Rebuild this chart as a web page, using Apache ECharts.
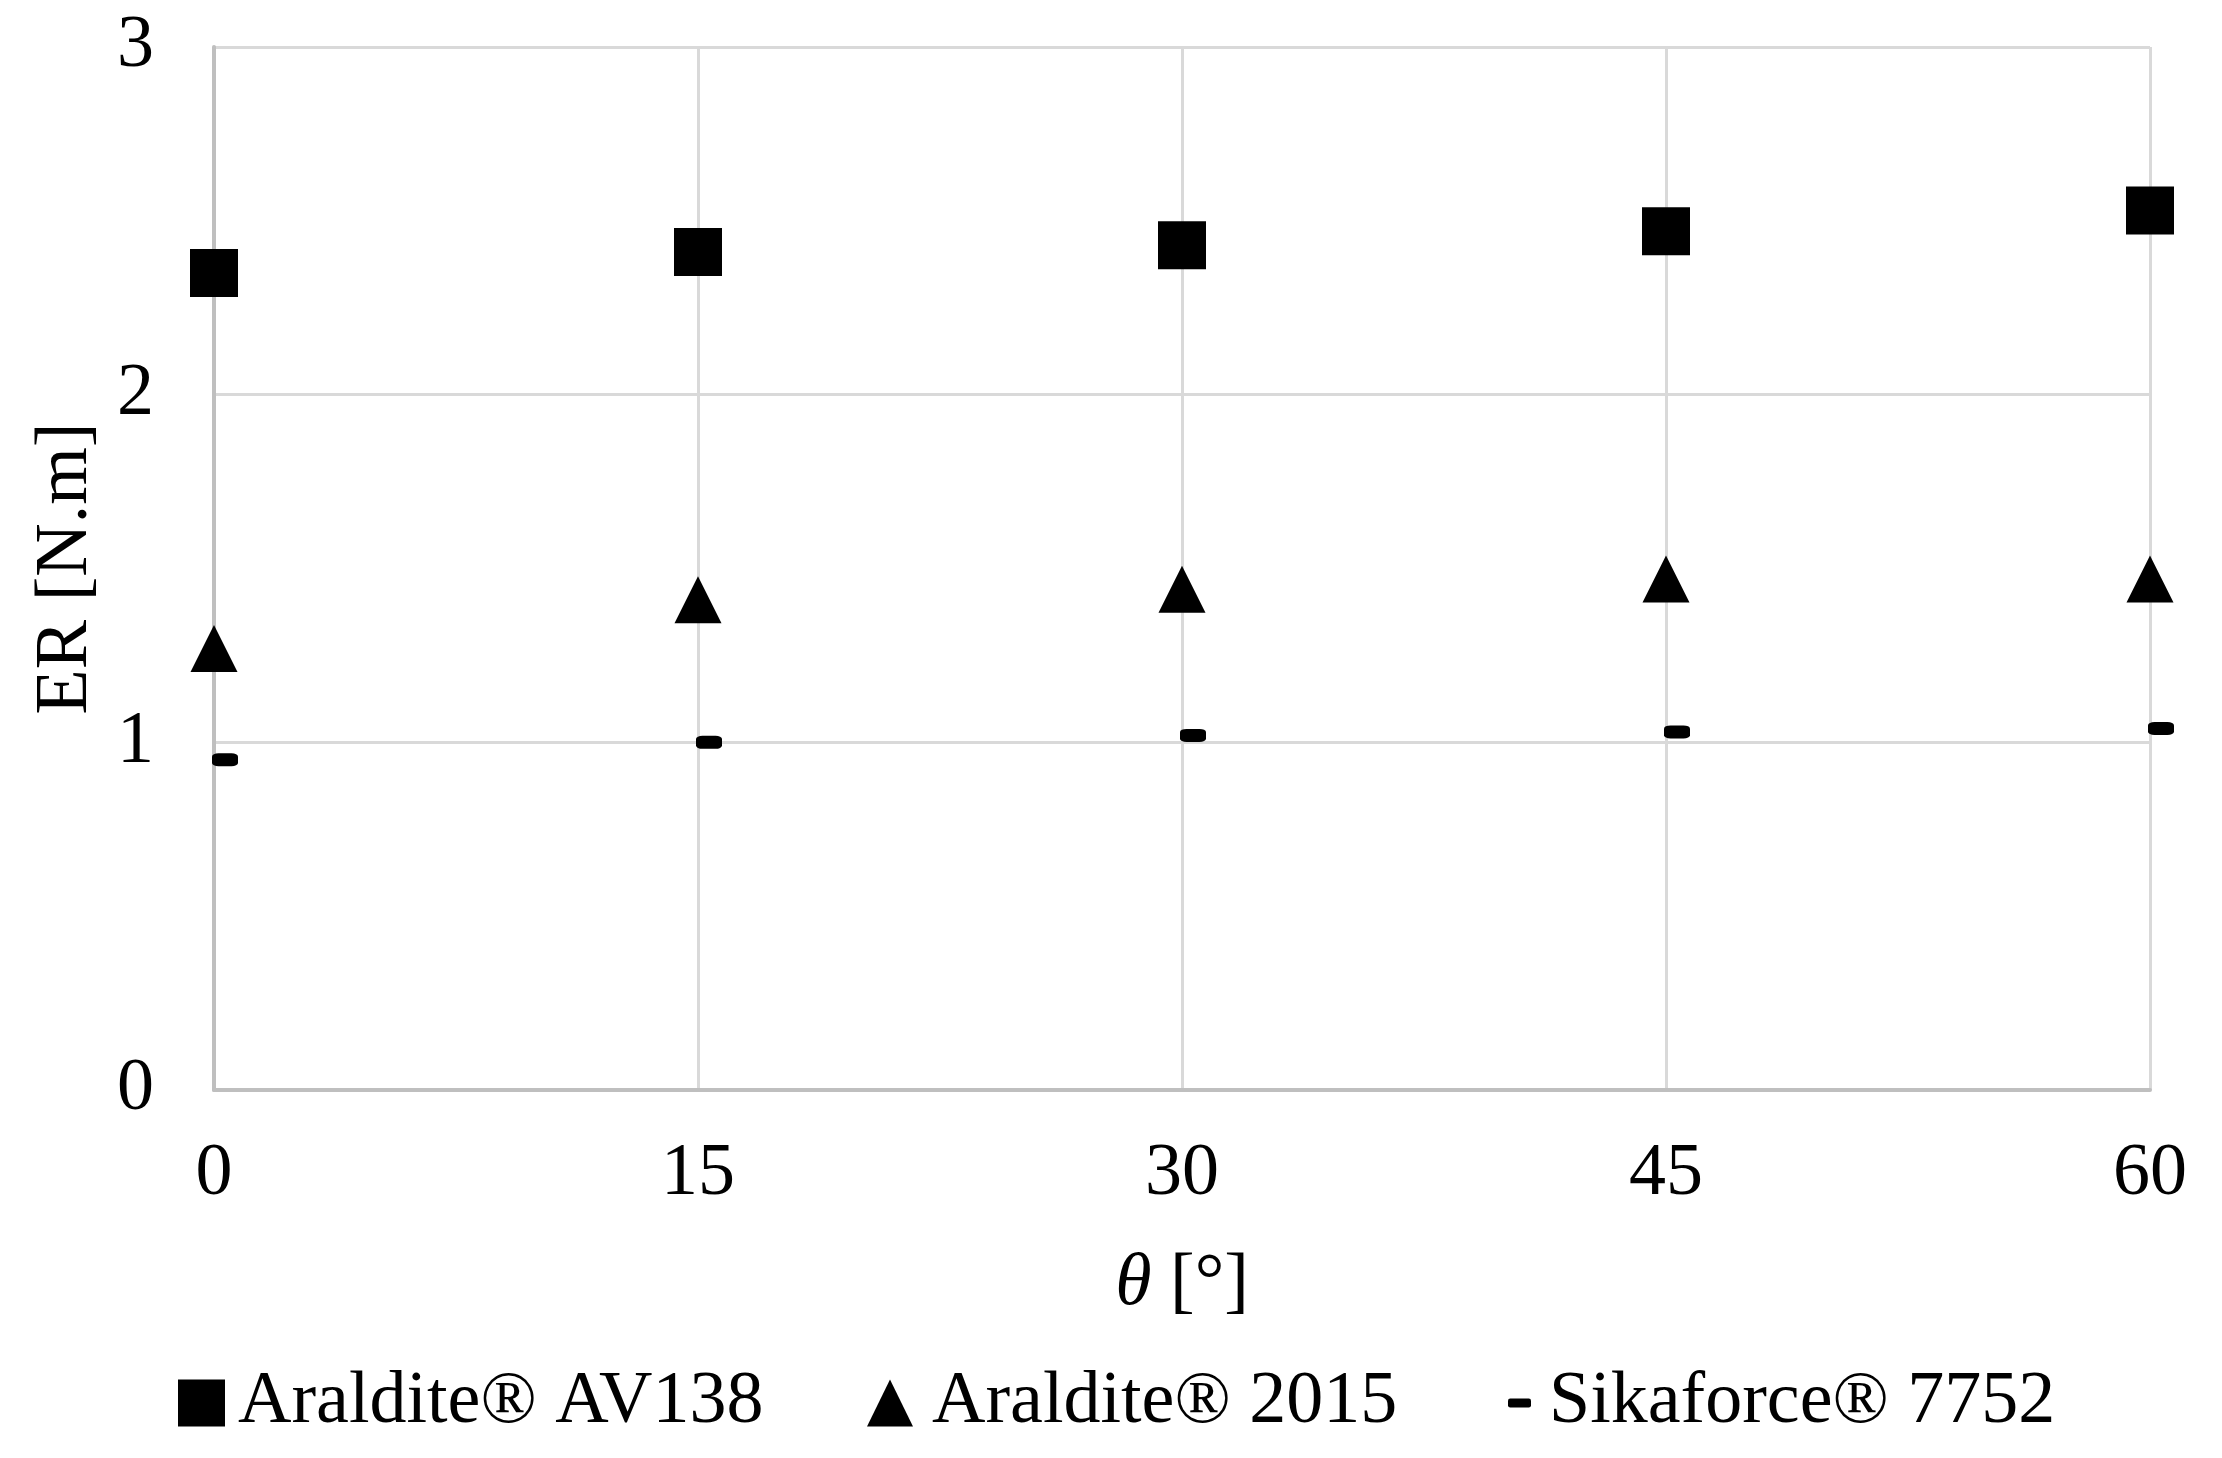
<!DOCTYPE html>
<html>
<head>
<meta charset="utf-8">
<script src="https://cdn.jsdelivr.net/npm/echarts@6/dist/echarts.min.js"></script>
<style>
html,body{margin:0;padding:0;background:#fff;}
#chart{width:2222px;height:1458px;}
</style>
</head>
<body>
<div id="chart"></div>
<script>
var theta = [0, 15, 30, 45, 60];
var xTicks = [0, 15, 30, 45, 60];
var yTicks = [0, 1, 2, 3];
var seriesNames = ['Araldite® AV138', 'Araldite® 2015', 'Sikaforce® 7752'];
var av138 = [2.35, 2.41, 2.43, 2.47, 2.53];
var a2015 = [1.27, 1.41, 1.44, 1.47, 1.47];
var sika = [0.95, 1.00, 1.02, 1.03, 1.04];

function pairs(xs, ys) { return xs.map(function (x, i) { return [x, ys[i]]; }); }

var FONT = "'Liberation Serif', 'Times New Roman', serif";
var FS = 74;
var chart = echarts.init(document.getElementById('chart'), null, {renderer: 'canvas'});

function legendText(padLeft) {
  return {fontFamily: FONT, fontSize: FS, color: '#000', lineHeight: 74, padding: [0, 0, 0, padLeft]};
}

chart.setOption({
  backgroundColor: '#fff',
  animation: false,
  grid: {left: 214, right: 72, top: 47, bottom: 368, containLabel: false, outerBoundsMode: 'none'},
  xAxis: {
    type: 'value', min: xTicks[0], max: xTicks[xTicks.length - 1], interval: 15,
    name: '{i|θ} [°]', nameLocation: 'middle', nameGap: 158,
    nameTextStyle: {fontFamily: FONT, fontSize: FS, color: '#000',
      rich: {i: {fontFamily: FONT, fontSize: FS, fontStyle: 'italic', color: '#000'}}},
    axisLine: {show: true, onZero: false, lineStyle: {color: '#bfbfbf', width: 4}},
    axisTick: {show: false},
    axisLabel: {fontFamily: FONT, fontSize: FS, color: '#000', margin: 48},
    splitLine: {show: true, lineStyle: {color: '#d9d9d9', width: 3}}
  },
  yAxis: {
    type: 'value', min: yTicks[0], max: yTicks[yTicks.length - 1], interval: 1,
    name: 'ER [N.m]', nameLocation: 'middle', nameGap: 110,
    nameTextStyle: {fontFamily: FONT, fontSize: FS, color: '#000'},
    axisLine: {show: true, lineStyle: {color: '#bfbfbf', width: 4}},
    axisTick: {show: false},
    axisLabel: {fontFamily: FONT, fontSize: FS, color: '#000', margin: 60},
    splitLine: {show: true, lineStyle: {color: '#d9d9d9', width: 3}}
  },
  legend: [
    {data: [{name: seriesNames[0], icon: 'rect'}], left: 173, top: 1361, itemWidth: 47, itemHeight: 47,
      textStyle: legendText(8), selectedMode: false},
    {data: [{name: seriesNames[1], icon: 'triangle'}], left: 862, top: 1361, itemWidth: 46, itemHeight: 47,
      textStyle: legendText(14), selectedMode: false},
    {data: [{name: seriesNames[2], icon: 'roundRect'}], left: 1503, top: 1361, itemWidth: 23, itemHeight: 9,
      textStyle: legendText(13), selectedMode: false}
  ],
  series: [
    {name: seriesNames[0], type: 'scatter', data: pairs(theta, av138), symbol: 'rect', symbolSize: 48,
      itemStyle: {color: '#000', opacity: 1}, clip: false},
    {name: seriesNames[1], type: 'scatter', data: pairs(theta, a2015), symbol: 'triangle', symbolSize: [47, 47],
      itemStyle: {color: '#000', opacity: 1}, clip: false},
    {name: seriesNames[2], type: 'scatter', data: pairs(theta, sika), symbol: 'roundRect', symbolSize: [26, 13],
      symbolOffset: [11, 0], itemStyle: {color: '#000', opacity: 1}, clip: false}
  ]
});
</script>
</body>
</html>
